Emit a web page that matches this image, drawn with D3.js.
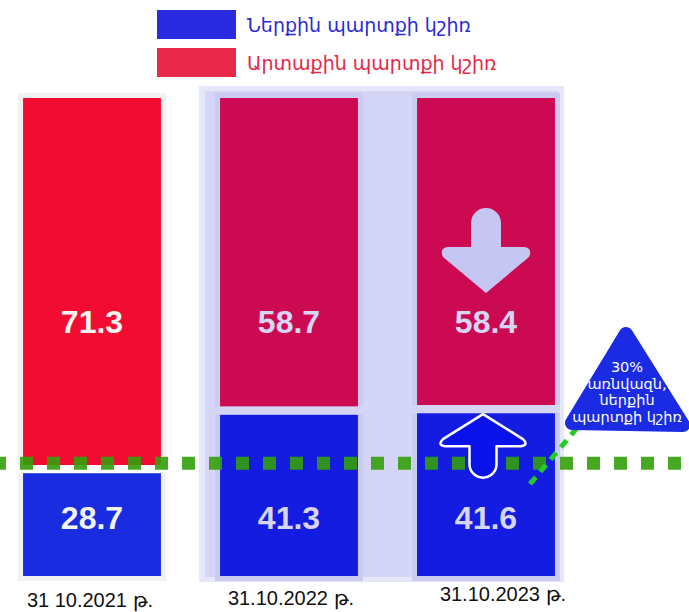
<!DOCTYPE html>
<html>
<head>
<meta charset="utf-8">
<script src="https://cdn.jsdelivr.net/npm/d3@7"></script>
<style>
	html, body { margin: 0; padding: 0; background: #fff; }
	svg { display: block; }
</style>
</head>
<body>
<div id="chart"></div>
<script>

var dates = [ '31 10.2021 թ.', '31.10.2022 թ.', '31.10.2023 թ.' ];
var internalShare = [ 28.7, 41.3, 41.6 ];
var externalShare = [ 71.3, 58.7, 58.4 ];
var seriesNames = [ 'Ներքին պարտքի կշիռ', 'Արտաքին պարտքի կշիռ' ];
var threshold = 30;
var calloutLines = [ '30%', 'առնվազն,', 'ներքին', 'պարտքի կշիռ' ];

var chart = {
	width: 689,
	height: 612,
	top: 98,
	bottom: 576,
	gap: 8,
	frame: 5
};

var svg = d3.select( '#chart' ).append( 'svg' )
	.attr( 'width', chart.width )
	.attr( 'height', chart.height );

var x = d3.scaleBand()
	.domain( dates )
	.range( [ -6.5, 584.5 ] )
	.paddingInner( 0.3 )
	.paddingOuter( 0.15 );

// the source picture is not drawn to a linear scale, a pow scale gets close
var y = d3.scalePow()
	.exponent( 1.2 )
	.domain( [ 0, 100 ] )
	.range( [ chart.bottom, chart.top ] );

var bw = x.bandwidth();

var rows = dates.map( function ( d, i ) {
	return {
		date: d,
		internal: internalShare[i],
		external: externalShare[i],
		inPanel: i > 0
	};
} );

// highlight panel behind the two latest bars
var panelX0 = x( dates[1] ) - 21;
var panelX1 = x( dates[2] ) + bw + 9;

svg.append( 'rect' )
	.attr( 'x', panelX0 )
	.attr( 'y', chart.top - 12 )
	.attr( 'width', panelX1 - panelX0 )
	.attr( 'height', chart.bottom - chart.top + 18 )
	.attr( 'fill', '#e6e6fb' );

svg.append( 'rect' )
	.attr( 'x', panelX0 + 6 )
	.attr( 'y', chart.top - 7 )
	.attr( 'width', panelX1 - panelX0 - 12 )
	.attr( 'height', chart.bottom - chart.top + 8 )
	.attr( 'fill', '#d5d5f8' );

// legend
var legendColors = [ '#2a2ae0', '#e8294a' ];
var legendText = [ '#2b2bd8', '#e6284a' ];
var legend = svg.append( 'g' ).selectAll( 'g' )
	.data( seriesNames )
	.join( 'g' )
	.attr( 'transform', function ( d, i ) { return 'translate(157,' + ( 10 + i * 38 ) + ')'; } );

legend.append( 'rect' )
	.attr( 'width', 79 )
	.attr( 'height', 29 )
	.attr( 'fill', function ( d, i ) { return legendColors[i]; } );

legend.append( 'text' )
	.attr( 'x', 90 )
	.attr( 'y', 22 )
	.attr( 'fill', function ( d, i ) { return legendText[i]; } )
	.style( 'font', '19px "DejaVu Sans", sans-serif' )
	.text( function ( d ) { return d; } );

// bars
var bars = svg.append( 'g' ).selectAll( 'g' )
	.data( rows )
	.join( 'g' )
	.attr( 'transform', function ( d ) { return 'translate(' + x( d.date ) + ',0)'; } );

bars.append( 'rect' )
	.attr( 'x', -chart.frame )
	.attr( 'y', y( 100 ) - chart.frame )
	.attr( 'width', bw + chart.frame * 2 )
	.attr( 'height', y( 0 ) - y( 100 ) + chart.frame * 2 )
	.attr( 'fill', function ( d ) { return d.inPanel ? '#cbcbf2' : '#f1f1f1'; } );

bars.append( 'rect' )
	.attr( 'x', 0 )
	.attr( 'y', function ( d ) { return y( d.internal ) + chart.gap / 2; } )
	.attr( 'width', bw )
	.attr( 'height', function ( d ) { return y( 0 ) - y( d.internal ) - chart.gap / 2; } )
	.attr( 'fill', function ( d ) { return d.inPanel ? '#141ce2' : '#1a2ce0'; } );

bars.append( 'rect' )
	.attr( 'x', 0 )
	.attr( 'y', function ( d ) { return y( d.internal + d.external ); } )
	.attr( 'width', bw )
	.attr( 'height', function ( d ) { return y( d.internal ) - y( d.internal + d.external ) - chart.gap / 2; } )
	.attr( 'fill', function ( d ) { return d.inPanel ? '#cc0a52' : '#f20c32'; } );

// gap between segments shows the panel or the page
bars.append( 'rect' )
	.attr( 'x', -chart.frame )
	.attr( 'y', function ( d ) { return y( d.internal ) - chart.gap / 2; } )
	.attr( 'width', bw + chart.frame * 2 )
	.attr( 'height', chart.gap )
	.attr( 'fill', function ( d ) { return d.inPanel ? '#d5d5f8' : '#ffffff'; } );

bars.append( 'text' )
	.attr( 'x', bw / 2 )
	.attr( 'y', 333 )
	.attr( 'text-anchor', 'middle' )
	.attr( 'fill', function ( d ) { return d.inPanel ? '#d6d6f4' : '#f4f4ee'; } )
	.style( 'font', 'bold 32px "Liberation Sans", Arial, sans-serif' )
	.text( function ( d ) { return d.external.toFixed( 1 ); } );

bars.append( 'text' )
	.attr( 'x', bw / 2 )
	.attr( 'y', 529 )
	.attr( 'text-anchor', 'middle' )
	.attr( 'fill', function ( d ) { return d.inPanel ? '#d6d6f4' : '#f4f4ee'; } )
	.style( 'font', 'bold 32px "Liberation Sans", Arial, sans-serif' )
	.text( function ( d ) { return d.internal.toFixed( 1 ); } );

// date labels under the bars
var dateNudge = [ [ -2, 2 ], [ 2, 0 ], [ 17, -4 ] ];
bars.append( 'text' )
	.attr( 'x', function ( d, i ) { return bw / 2 + dateNudge[i][0]; } )
	.attr( 'y', function ( d, i ) { return 605 + dateNudge[i][1]; } )
	.attr( 'text-anchor', 'middle' )
	.attr( 'fill', '#111' )
	.style( 'font', '20px "Liberation Sans", Arial, sans-serif' )
	.text( function ( d ) { return d.date; } );

// 30% threshold
svg.append( 'line' )
	.attr( 'x1', 0 )
	.attr( 'x2', chart.width )
	.attr( 'y1', y( threshold ) )
	.attr( 'y2', y( threshold ) )
	.attr( 'stroke', '#33a00a' )
	.attr( 'stroke-opacity', 0.9 )
	.attr( 'stroke-width', 13 )
	.attr( 'stroke-dasharray', '13 14' )
	.attr( 'stroke-dashoffset', 7 );

// arrows on the latest bar
var cx = x( dates[2] ) + bw / 2;

svg.append( 'path' )
	.attr( 'transform', 'translate(' + cx + ',293)' )
	.attr( 'd', 'M-15,-46 L-15,-70 A15,15 0 0 1 15,-70 L15,-46 L38,-46 Q47,-45 43,-36 L0,0 L-43,-36 Q-47,-45 -38,-46 Z' )
	.attr( 'fill', '#c6c6f2' );

svg.append( 'path' )
	.attr( 'transform', 'translate(' + ( cx - 3 ) + ',' + ( y( internalShare[2] ) + chart.gap / 2 + 1 ) + ')' )
	.attr( 'd', 'M0,0 L40,25 Q46,31 38,32 L13.5,32 L13.5,50 A13.5,13.5 0 0 1 -13.5,50 L-13.5,32 L-38,32 Q-46,31 -40,25 Z' )
	.attr( 'fill', '#0a12ea' )
	.attr( 'stroke', '#fff' )
	.attr( 'stroke-width', 2.5 )
	.attr( 'stroke-linejoin', 'round' );

// callout
svg.append( 'line' )
	.attr( 'x1', 530 )
	.attr( 'y1', 484 )
	.attr( 'x2', 577 )
	.attr( 'y2', 428 )
	.attr( 'stroke', '#22cc22' )
	.attr( 'stroke-width', 5 )
	.attr( 'stroke-dasharray', '9 7' );

svg.append( 'path' )
	.attr( 'd', 'M626,334 L572,423 L683,425 Z' )
	.attr( 'fill', '#1a2be3' )
	.attr( 'stroke', '#1a2be3' )
	.attr( 'stroke-width', 14 )
	.attr( 'stroke-linejoin', 'round' );

svg.append( 'g' ).selectAll( 'text' )
	.data( calloutLines )
	.join( 'text' )
	.attr( 'x', 627 )
	.attr( 'y', function ( d, i ) { return 372 + i * 16.7; } )
	.attr( 'text-anchor', 'middle' )
	.attr( 'fill', '#fff' )
	.style( 'font', '14.5px "DejaVu Sans", sans-serif' )
	.text( function ( d ) { return d; } );

</script>
</body>
</html>
